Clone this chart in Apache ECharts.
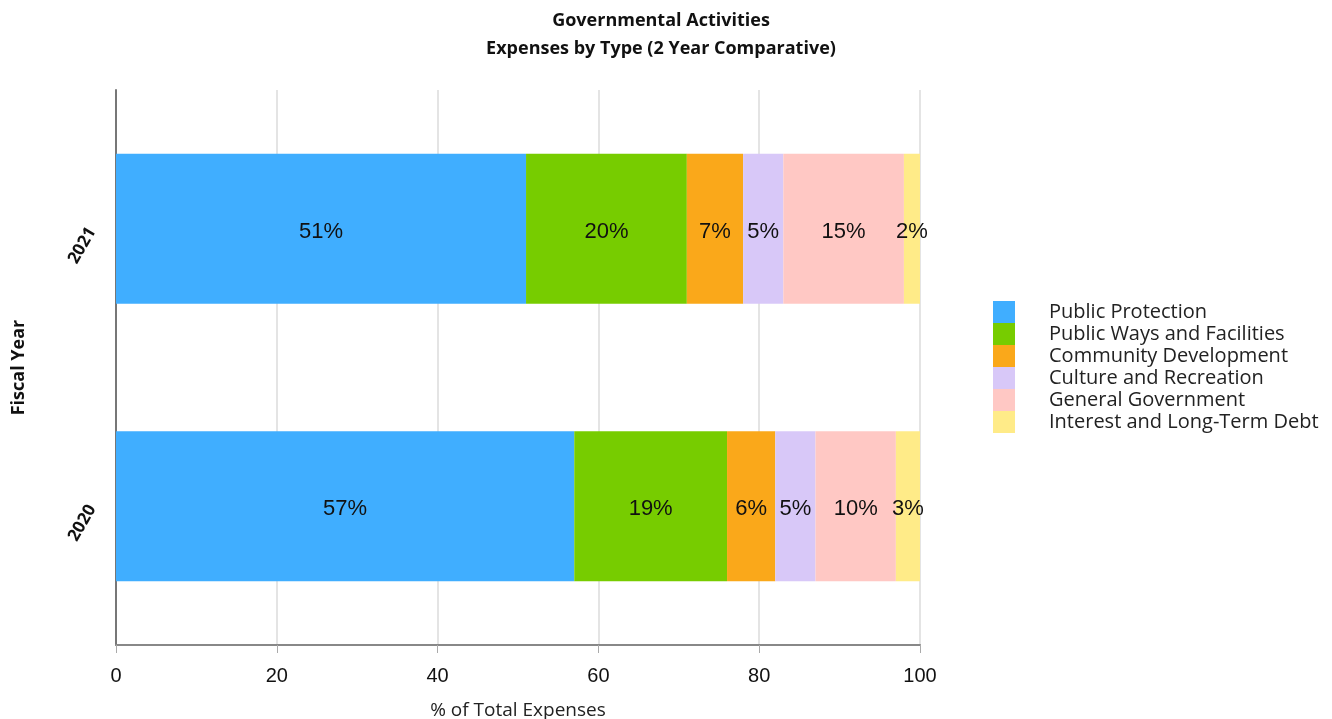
<!DOCTYPE html>
<html>
<head>
<meta charset="utf-8">
<script src="https://cdn.jsdelivr.net/npm/echarts@6/dist/echarts.min.js"></script>
<style>
  html, body { margin: 0; padding: 0; background: #fff; }
  #chart { width: 1332px; height: 719px; }
</style>
</head>
<body>
<div id="chart"></div>
<script>
// Fiscal years, listed bottom to top
const years = ['2020', '2021'];

// Share of total expenses (%) per expense type, in the order of years
const publicProtection = [57, 51];
const publicWays = [19, 20];
const communityDevelopment = [6, 7];
const cultureRecreation = [5, 5];
const generalGovernment = [10, 15];
const interestDebt = [3, 2];

const seriesNames = [
  'Public Protection',
  'Public Ways and Facilities',
  'Community Development',
  'Culture and Recreation',
  'General Government',
  'Interest and Long-Term Debt'
];
const seriesData = [publicProtection, publicWays, communityDevelopment, cultureRecreation, generalGovernment, interestDebt];
const seriesColors = ['#40AEFF', '#77CC00', '#FAA81A', '#D8C8F8', '#FFC8C4', '#FFEB88'];

const xTicks = [0, 20, 40, 60, 80, 100];

const chart = echarts.init(document.getElementById('chart'), null, { renderer: 'canvas' });

const uiFont = '"Open Sans", "Noto Sans", sans-serif';

chart.setOption({
  backgroundColor: '#ffffff',
  animation: false,
  title: {
    text: 'Governmental Activities\nExpenses by Type (2 Year Comparative)',
    left: 656,
    top: 2,
    textAlign: 'center',
    textStyle: {
      fontFamily: uiFont,
      fontWeight: 'bold',
      fontSize: 18,
      lineHeight: 28,
      color: '#111'
    }
  },
  legend: {
    orient: 'vertical',
    left: 988,
    top: 296,
    itemWidth: 22,
    itemHeight: 22,
    itemGap: 0,
    icon: 'rect',
    data: seriesNames,
    textStyle: {
      fontFamily: uiFont,
      fontSize: 20,
      lineHeight: 22,
      color: '#222',
      padding: [0, 0, 0, 29]
    }
  },
  grid: {
    left: 116,
    right: 412,
    top: 90,
    bottom: 74,
    containLabel: false,
    outerBoundsMode: 'none'
  },
  xAxis: {
    type: 'value',
    min: 0,
    max: 100,
    interval: 20,
    name: '% of Total Expenses',
    nameLocation: 'middle',
    nameGap: 56,
    nameTextStyle: {
      fontFamily: uiFont,
      fontSize: 19,
      color: '#222'
    },
    axisLine: { show: true, lineStyle: { color: '#888', width: 2 } },
    axisTick: { show: true, length: 8, lineStyle: { color: '#aaa' } },
    axisLabel: {
      fontFamily: '"Liberation Sans Narrow", "Liberation Sans", sans-serif',
      fontSize: 20,
      color: '#111',
      margin: 21,
      formatter: v => (xTicks.includes(v) ? String(v) : '')
    },
    splitLine: { show: true, lineStyle: { color: '#e4e4e4', width: 2 } }
  },
  yAxis: {
    type: 'category',
    data: years,
    name: 'Fiscal Year',
    nameLocation: 'middle',
    nameGap: 88,
    nameRotate: 90,
    nameTextStyle: {
      fontFamily: uiFont,
      fontWeight: 'bold',
      fontSize: 18,
      color: '#111'
    },
    axisLine: { show: true, lineStyle: { color: '#777', width: 2 } },
    axisTick: { show: false },
    axisLabel: {
      rotate: 60,
      fontFamily: uiFont,
      fontWeight: 'bold',
      fontSize: 17,
      color: '#111',
      margin: 24
    },
    splitLine: { show: false }
  },
  series: seriesNames.map((name, i) => ({
    name: name,
    type: 'bar',
    stack: 'total',
    barWidth: 150,
    data: seriesData[i],
    itemStyle: { color: seriesColors[i] },
    label: {
      show: true,
      position: 'inside',
      offset: [0, 3],
      formatter: p => p.value + '%',
      fontFamily: '"Liberation Sans", Arial, sans-serif',
      fontSize: 22,
      color: '#111'
    }
  }))
});
</script>
</body>
</html>
